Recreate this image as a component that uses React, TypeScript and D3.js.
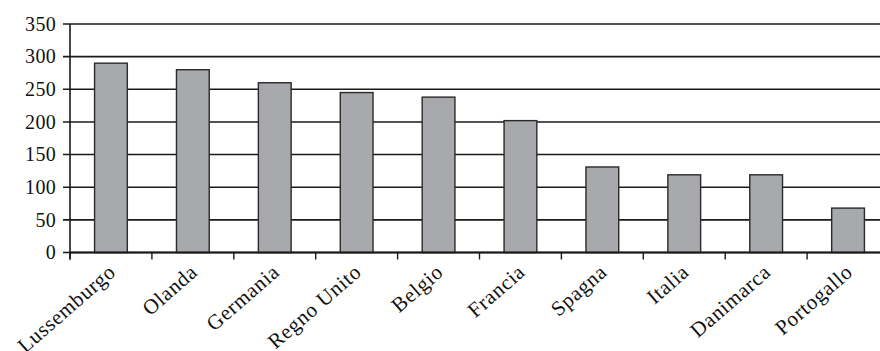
import React from "react";
import * as d3 from "d3";

const categories = ["Lussemburgo", "Olanda", "Germania", "Regno Unito", "Belgio", "Francia", "Spagna", "Italia", "Danimarca", "Portogallo"];
const values = [290, 280, 260, 245, 238, 202, 131, 119, 119, 68];
const yTicks = [0, 50, 100, 150, 200, 250, 300, 350];

const W = 880, H = 351;
const left = 70, right = 889, top = 24, bottom = 252.5;
const font = "'Liberation Serif', 'Times New Roman', serif";

export default function App() {
  const x = d3.scaleBand<string>().domain(categories).range([left, right]).paddingInner(0.6).paddingOuter(0.3);
  const y = d3.scaleLinear().domain([0, 350]).range([bottom, top]);
  const step = x.step();
  const bounds = d3.range(categories.length + 1).map((i) => left + i * step);
  return (
    <svg width={W} height={H} style={{ position: "absolute", left: 0, top: 0, background: "#fff" }}>
      {yTicks.map((t) => (
        <g key={t}>
          <line x1={63} x2={W} y1={y(t)} y2={y(t)} stroke="#1a1a1a" strokeWidth={1.6} />
          <text x={56} y={y(t)} dy="0.34em" textAnchor="end" fontFamily={font} fontSize={20} letterSpacing={0.3} fill="#111">{t}</text>
        </g>
      ))}
      {categories.map((c, i) => (
        <rect key={c} x={x(c)} y={y(values[i])} width={x.bandwidth()} height={y(0) - y(values[i])} fill="#a7a9ac" stroke="#2a2a2a" strokeWidth={1.4} />
      ))}
      <line x1={left} x2={left} y1={top} y2={bottom + 7} stroke="#1a1a1a" strokeWidth={1.6} />
      <line x1={left} x2={W} y1={bottom} y2={bottom} stroke="#1a1a1a" strokeWidth={1.8} />
      {bounds.map((b, i) => (
        <line key={i} x1={b} x2={b} y1={bottom} y2={bottom + 7} stroke="#1a1a1a" strokeWidth={1.4} />
      ))}
      {categories.map((c) => {
        const cx = (x(c) as number) + x.bandwidth() / 2 + 6;
        const cy = 274;
        return (
          <text key={c} x={cx} y={cy} textAnchor="end" fontFamily={font} fontSize={21} letterSpacing={0.7} fill="#111" transform={`rotate(-41 ${cx} ${cy})`}>{c}</text>
        );
      })}
    </svg>
  );
}
